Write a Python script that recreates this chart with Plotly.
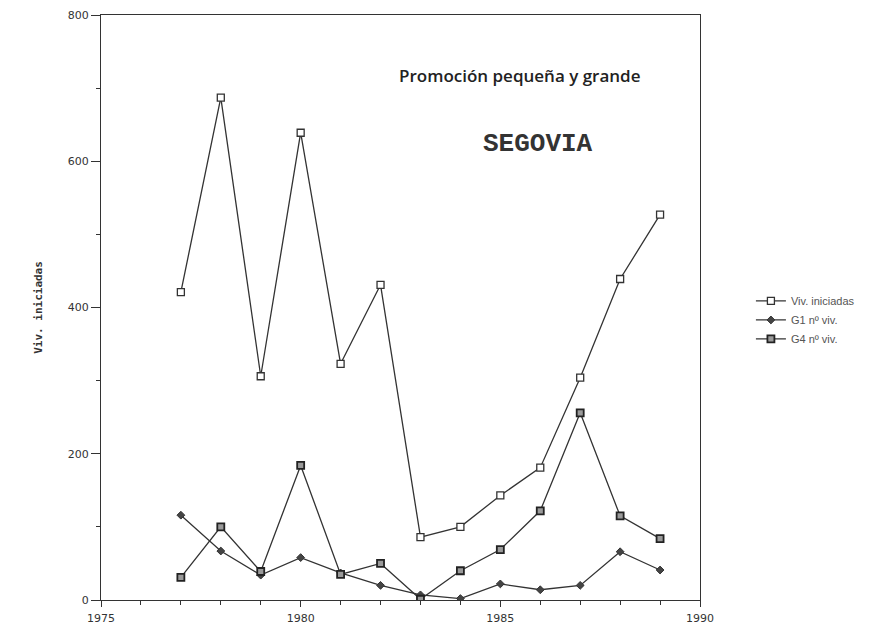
import plotly.graph_objects as go

years = list(range(1977, 1990))
viv_iniciadas = [421, 687, 306, 639, 323, 431, 86, 100, 143, 181, 304, 439, 527]
g1_viv = [116, 67, 34, 58, 37, 20, 7, 2, 22, 14, 20, 66, 41]
g4_viv = [31, 100, 39, 184, 35, 50, 1, 40, 69, 122, 256, 115, 84]

x_ticks = [1975, 1980, 1985, 1990]
y_ticks = [0, 200, 400, 600, 800]

line_col = "#333333"
fig = go.Figure()
fig.add_trace(go.Scatter(
    x=years, y=viv_iniciadas, name="Viv. iniciadas", mode="lines+markers",
    line=dict(color=line_col, width=1.3),
    marker=dict(symbol="square", size=7, color="white", line=dict(color=line_col, width=1.3))))
fig.add_trace(go.Scatter(
    x=years, y=g1_viv, name="G1 nº viv.", mode="lines+markers",
    line=dict(color=line_col, width=1.3),
    marker=dict(symbol="diamond", size=6, color="#444444", line=dict(color=line_col, width=1))))
fig.add_trace(go.Scatter(
    x=years, y=g4_viv, name="G4 nº viv.", mode="lines+markers",
    line=dict(color=line_col, width=1.3),
    marker=dict(symbol="square", size=7, color="#9a9a9a", line=dict(color="#222222", width=1.8))))

# The page body has an 8px margin, so the figure is sized to fit the 874x626 window.
fig.update_layout(
    width=866, height=618,
    margin=dict(l=93, r=174, t=7, b=26, autoexpand=False),
    paper_bgcolor="white", plot_bgcolor="white",
    showlegend=True,
    legend=dict(x=1.085, y=0.536, xanchor="left", yanchor="top",
                font=dict(family="Liberation Sans, Arial", size=11, color="#555555"),
                bgcolor="rgba(0,0,0,0)", tracegroupgap=0, itemwidth=30),
    font=dict(family="Liberation Sans, Arial", size=11, color="#333333"),
    annotations=[
        dict(text="Promoción pequeña y grande", x=0.699, y=0.896, xref="paper", yref="paper",
             xanchor="center", yanchor="middle", showarrow=False,
             font=dict(family="Open Sans, Liberation Sans", size=17, weight=600, color="#222222")),
        dict(text="<b>SEGOVIA</b>", x=0.730, y=0.78, xref="paper", yref="paper",
             xanchor="center", yanchor="middle", showarrow=False,
             font=dict(family="Liberation Mono, Courier New", size=26, color="#333333")),
    ],
)
fig.update_xaxes(
    range=[1975, 1990], tickvals=x_ticks, ticktext=[str(v) for v in x_ticks],
    showgrid=False, zeroline=False, showline=True, linecolor=line_col, linewidth=1.3,
    mirror=True, ticks="outside", ticklen=6, tickcolor=line_col, automargin=False,
    ticklabelstandoff=2, ticklabeloverflow="allow",
    minor=dict(dtick=1, tick0=1975, ticks="outside", ticklen=4, tickcolor=line_col, showgrid=False),
    tickfont=dict(family="DejaVu Sans, Liberation Sans", size=11, color="#333333"))
fig.update_yaxes(
    range=[0, 800], tickvals=y_ticks, ticktext=[str(v) for v in y_ticks],
    showgrid=False, zeroline=False, showline=True, linecolor=line_col, linewidth=1.3,
    mirror=True, ticks="outside", ticklen=9, tickcolor=line_col, automargin=False,
    ticklabeloverflow="allow",
    minor=dict(dtick=100, tick0=0, ticks="outside", ticklen=4, tickcolor=line_col, showgrid=False),
    tickfont=dict(family="DejaVu Sans, Liberation Sans", size=11, color="#333333"),
    title=dict(text="<b>Viv. iniciadas</b>", standoff=22,
               font=dict(family="DejaVu Sans Mono, Liberation Mono", size=11, color="#333333")))

fig.write_html("out.html")
